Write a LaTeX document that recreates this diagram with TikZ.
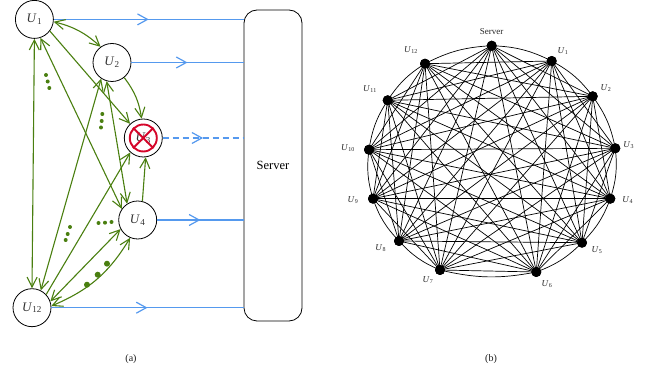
\documentclass[tikz,border=0pt]{standalone}
\usepackage{fontspec}
\setmainfont{Liberation Serif}
\usetikzlibrary{arrows.meta,decorations.markings,calc}
\definecolor{gr}{HTML}{4A7F10}
\definecolor{bl}{HTML}{5599EE}
\definecolor{rd}{HTML}{D5062A}
\newcommand{\usr}[1]{\textit{U}\kern0.3pt$_{\mathrm{#1}}$}
\tikzset{
  x=1pt,y=-1pt,
  user/.style={draw,circle,minimum size=38pt,inner sep=0pt,line width=0.8pt,font=\fontsize{13}{14}\selectfont,text=black!80},
  gedge/.style={draw=gr,line width=1.1pt},
  gboth/.style={gedge,{Straight Barb[length=10pt,width=10pt]}-{Straight Barb[length=10pt,width=10pt]}},
  ghead/.style={gedge,-{Straight Barb[length=10pt,width=10pt]}},
  bedge/.style={draw=bl,line width=1.2pt,postaction={decorate},decoration={markings,mark=at position #1 with {\arrow[solid]{Straight Barb[length=10pt,width=11pt]}}}},
  gdot/.style={fill=gr,circle,inner sep=0pt,minimum size=4pt},
  bigdot/.style={fill=gr,circle,inner sep=0pt,minimum size=6pt},
  vert/.style={fill=black,circle,inner sep=0pt,minimum size=10pt},
  vlab/.style={font=\fontsize{9}{10}\selectfont,text=black!85},
  captxt/.style={font=\fontsize{10}{11}\selectfont,text=black!90},
  arcedge/.style={line width=0.7pt,bend left=12},
  chord/.style={line width=0.7pt},
}
\begin{document}
\begin{tikzpicture}
\useasboundingbox (0,0) rectangle (646,379);
% left diagram
\node[user] (u1) at (34.4,19.4) {\usr{1}};
\node[user] (u2) at (112,62.5) {\usr{2}};
\node[user] (u3) at (143.3,138) {\usr{3}};
\node[user] (u4) at (137.7,220) {\usr{4}};
\node[user] (u12) at (32,307.7) {\usr{12}};
\node[draw,rounded corners=13pt,line width=0.8pt,minimum width=58pt,minimum height=311pt,inner sep=0pt,font=\fontsize{12.5}{14}\selectfont] (srv) at (273,165.5) {Server};
% red cross
\node[draw=rd,circle,line width=1.9pt,minimum size=27pt,inner sep=0pt] (no) at (u3) {};
\draw[rd,line width=1.9pt] (no.45) -- (no.225);
\draw[rd,line width=1.9pt] (no.135) -- (no.-45);
% blue
\path[bedge=0.5] (u1.east) -- (u1.east -| srv.west);
\path[bedge=0.5] (u2.east) -- (u2.east -| srv.west);
\path[bedge=0.5,dash pattern=on 6pt off 4pt] (u3.east) -- (u3.east -| srv.west);
\path[bedge=0.5] (u4.east) -- (u4.east -| srv.west);
\path[bedge=0.5] (u12.east) -- (u12.east -| srv.west);
% green
\path[gboth] (u1.-90) -- (u12.90);
\path[gboth] (u1.-7) to[bend left=14] (u2.126);
\path[ghead] (u1.-37) -- (u3.133);
\path[gboth] (u1.-72) -- (u4.145);
\path[ghead] (u2.-51) to[bend left=14] (u3.95);
\path[gboth] (u2.-106) -- (u4.123);
\path[gboth] (u2.-124) -- (u12.63);
\path[ghead] (u12.43) -- (u3.-132);
\path[ghead] (u4.76) -- (u3.-83);
\path[gboth] (u4.208) -- (u12.19);
\path[gboth] (u4.-113) to[bend left=18] (u12.5);
% dots
\foreach \i/\x/\y in {1/46/75,2/47.7/81.5,3/49.3/88,4/102.3/114,5/101.7/121,6/101/127.5,7/98.5/223,8/105/222.7,9/111.5/222,10/70/227,11/67.7/234,12/65.7/240}
  \node[gdot] (d\i) at (\x,\y) {};
\foreach \i/\x/\y in {1/107/263.7,2/97.7/274.7,3/87/284.7}
  \node[bigdot] (b\i) at (\x,\y) {};
\node[captxt] (capa) at (131,359) {(a)};
\node[captxt] (capb) at (491,359) {(b)};
% right diagram
\foreach \i/\x/\y in {0/491.7/45.7,1/551.7/61,2/592.7/96.3,3/615.3/148.3,4/610.3/198.7,5/582/242.7,6/536.3/272,7/440/270,8/399/241,9/373/198.7,10/369/149.7,11/387.7/100.3,12/425/63.7}
  \node[vert] (n\i) at (\x,\y) {};
\foreach \i in {0,...,11}{
  \pgfmathtruncatemacro{\j}{\i+1}
  \draw[arcedge] (n\i.center) to (n\j.center);
  \pgfmathtruncatemacro{\s}{\i+2}
  \ifnum\s<13
    \foreach \k in {\s,...,12}{
      \ifnum\i=0 \ifnum\k=12 \else \draw[chord] (n\i.center) -- (n\k.center); \fi
      \else \draw[chord] (n\i.center) -- (n\k.center); \fi
    }
  \fi
}
\draw[arcedge] (n12.center) to (n0.center);
\draw[chord] (n6.center) -- (n7.center);
\foreach \i in {0,...,12} \node[vert] at (n\i) {};
\node[vlab] (l0) at (491.5,32) {Server};
\foreach \i/\t/\x/\y in {1/1/563/50.7,2/2/606/88,3/3/628.7/145,4/4/627.7/200,5/5/597/250,6/6/547/283.7,7/7/428/280,8/8/380.7/247.7,9/9/353/200,10/10/348/148,11/11/370/89,12/12/411/50}
  \node[vlab] (l\i) at (\x,\y) {\usr{\t}};
\end{tikzpicture}
\end{document}
